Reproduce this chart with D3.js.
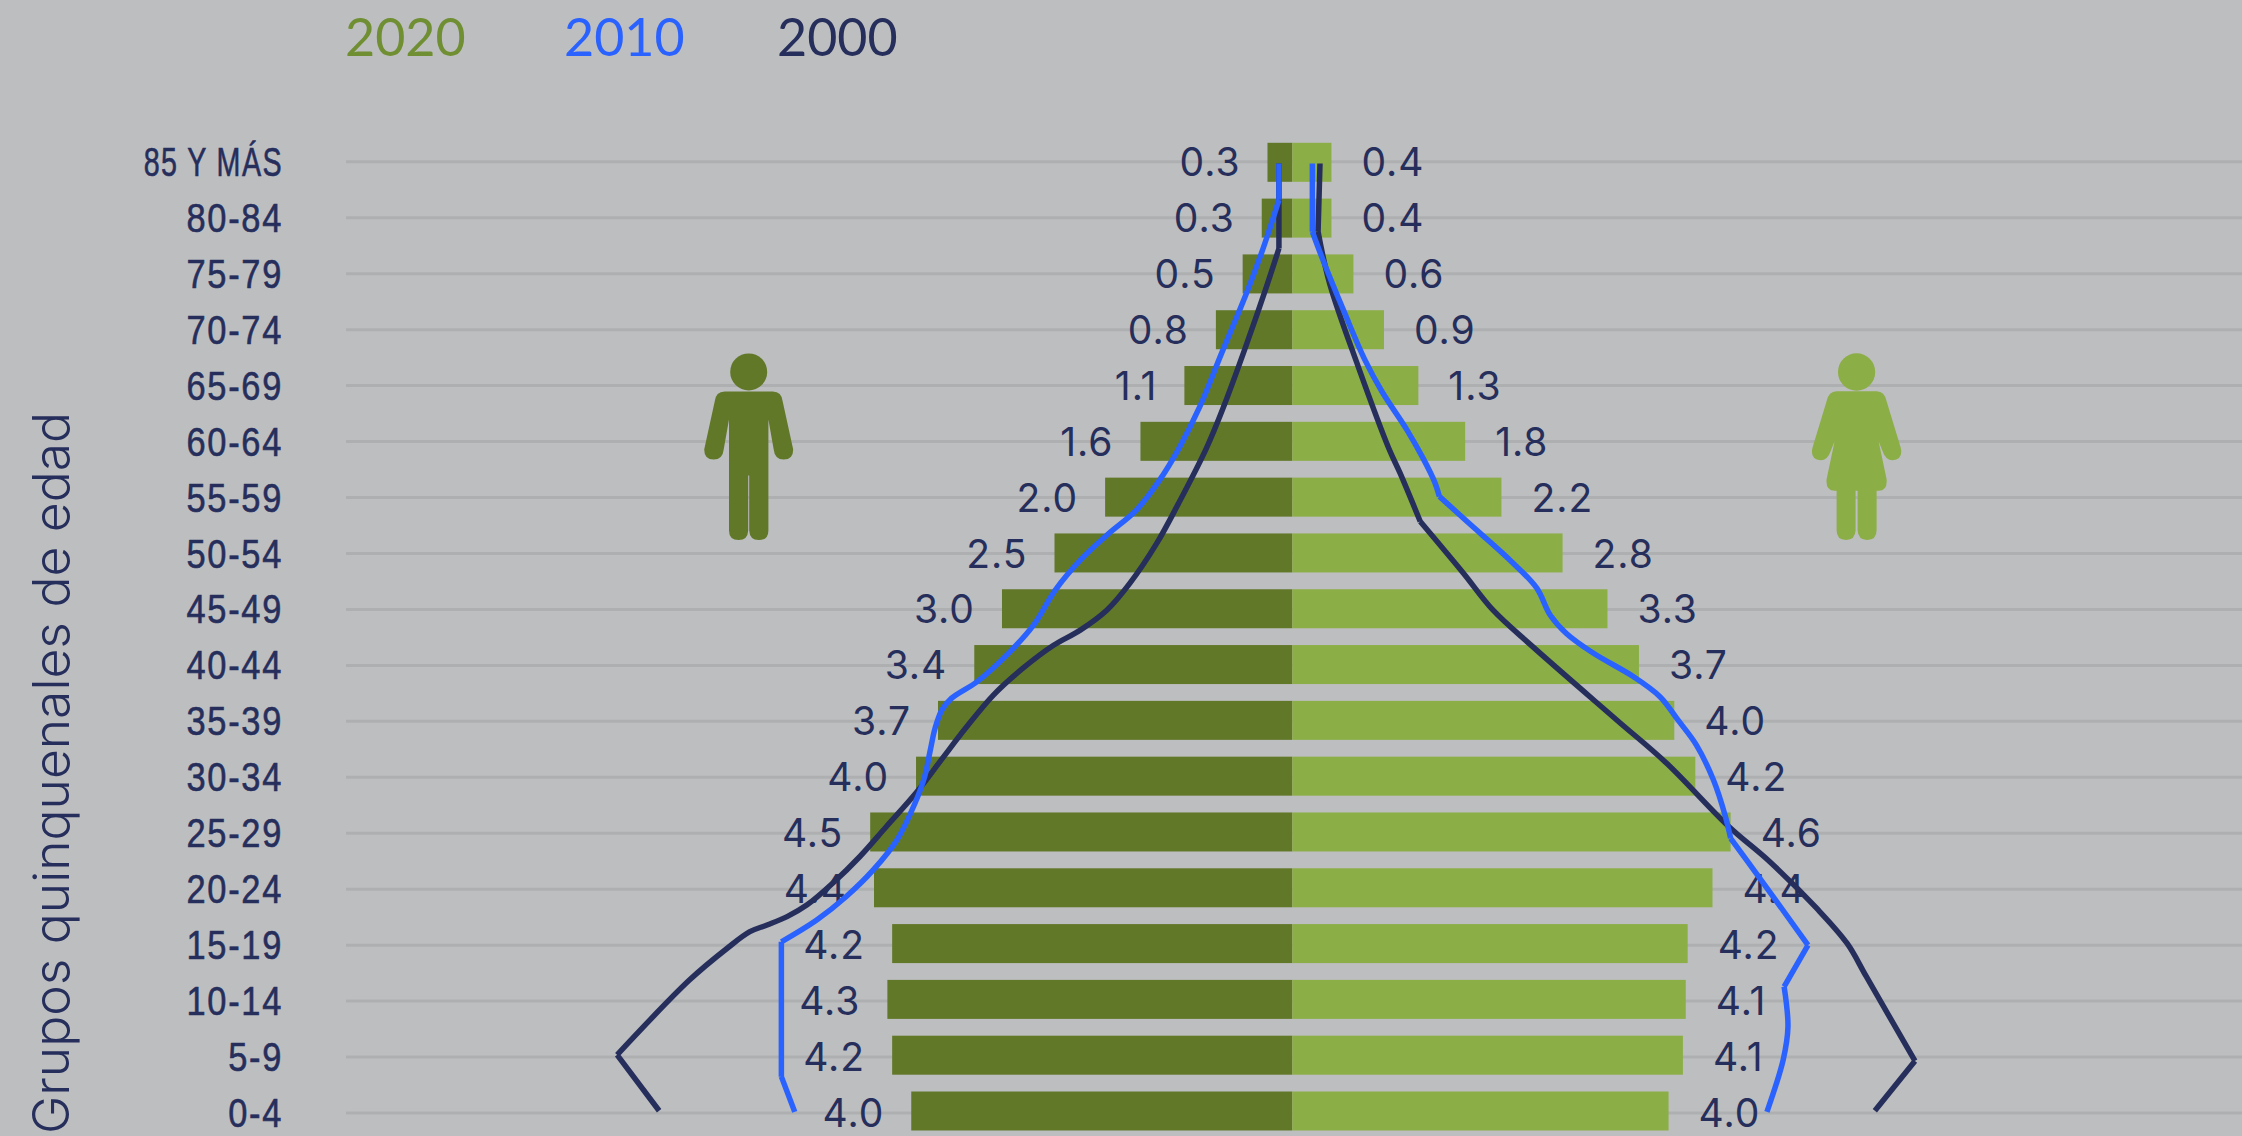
<!DOCTYPE html>
<html>
<head>
<meta charset="utf-8">
<script src="https://cdn.jsdelivr.net/npm/d3@7"></script>
<style>
html, body { margin: 0; padding: 0; background: #bdbec0; overflow: hidden; }
svg { display: block; }
</style>
</head>
<body>
<script>
// age groups, top of the pyramid first
var ageGroups = ["85 Y MÁS","80-84","75-79","70-74","65-69","60-64","55-59","50-54","45-49","40-44","35-39","30-34","25-29","20-24","15-19","10-14","5-9","0-4"];

// 2020 bars, % of population
var male2020 = [0.26,0.32,0.52,0.80,1.13,1.59,1.96,2.49,3.04,3.33,3.71,3.94,4.42,4.38,4.19,4.24,4.19,3.99];
var female2020 = [0.41,0.41,0.64,0.96,1.32,1.81,2.19,2.83,3.30,3.63,4.00,4.22,4.59,4.40,4.14,4.12,4.09,3.94];
var maleLabels = ["0.3","0.3","0.5","0.8","1.1","1.6","2.0","2.5","3.0","3.4","3.7","4.0","4.5","4.4","4.2","4.3","4.2","4.0"];
var femaleLabels = ["0.4","0.4","0.6","0.9","1.3","1.8","2.2","2.8","3.3","3.7","4.0","4.2","4.6","4.4","4.2","4.1","4.1","4.0"];

// outline lines as [pct, age position], 0 = 0-4 row and 17 = 85+ row
// each inner list is one smooth run, a new run starts at a kink
var male2010 = [
  [[0.14,16.97],[0.14,16.32]],
  [[0.14,16.32],[0.30,15.48],[0.48,14.65],[0.74,13.58],[0.97,12.62],[1.19,11.87],[1.39,11.31],[1.63,10.78],[1.94,10.33],[2.22,9.88],[2.48,9.35],[2.71,8.72],[2.97,8.22],[3.30,7.71],[3.57,7.41],[3.67,7.20],[3.74,6.88],[3.79,6.49],[3.85,6.01],[3.95,5.54],[4.14,4.88],[4.39,4.34],[4.67,3.87],[4.98,3.45],[5.35,3.06]],
  [[5.35,3.06],[5.35,0.65]],
  [[5.35,0.65],[5.21,0.02]]
];
var male2000 = [
  [[0.14,16.97],[0.14,15.45]],
  [[0.14,15.45],[0.27,14.77],[0.50,13.64],[0.72,12.62],[0.90,11.88],[1.19,10.90],[1.42,10.18],[1.70,9.47],[1.94,8.99],[2.22,8.63],[2.50,8.36],[2.82,7.95],[3.13,7.47],[3.42,6.88],[3.65,6.37],[3.93,5.74],[4.25,5.12],[4.53,4.58],[4.81,4.11],[5.08,3.72],[5.29,3.51],[5.50,3.36],[5.68,3.24],[5.92,2.94],[6.31,2.38],[7.07,1.04]],
  [[7.07,1.04],[6.63,0.04]]
];
var female2010 = [
  [[0.21,16.97],[0.21,15.75]],
  [[0.21,15.75],[0.32,15.25],[0.55,14.29],[0.76,13.46],[0.94,12.89],[1.20,12.21],[1.37,11.70],[1.49,11.28],[1.54,11.02]],
  [[1.54,11.02],[1.83,10.57],[2.28,9.88],[2.56,9.38],[2.70,8.90],[2.87,8.57],[3.15,8.22],[3.57,7.80],[3.85,7.44],[4.04,7.02],[4.23,6.58],[4.41,5.95],[4.53,5.33],[4.59,4.91]],
  [[4.59,4.91],[4.86,4.28],[5.40,3.00]],
  [[5.40,3.00],[5.15,2.26]],
  [[5.15,2.26],[5.19,1.54],[5.14,0.95],[4.97,0.02]]
];
var female2000 = [
  [[0.29,16.97],[0.27,15.75]],
  [[0.27,15.75],[0.39,14.83],[0.69,13.34],[1.01,11.88],[1.13,11.43],[1.34,10.57]],
  [[1.34,10.57],[1.79,9.65],[2.10,8.99],[2.52,8.33],[3.40,7.02],[3.92,6.25],[4.57,5.12],[5.00,4.49],[5.49,3.66],[5.81,3.03],[6.01,2.44],[6.52,0.93]],
  [[6.52,0.93],[6.10,0.04]]
];

var legendYears = ["2020","2010","2000"];
var legendColors = ["#708f32","#2a62ff","#262e5c"];

var width = 2242, height = 1136;
var centerX = 1292.3, gridLeft = 346, topRow = 161.8, bottomRow = 1113;
var barHeight = 39;
var navy = "#262e5c", darkGreen = "#627829", lightGreen = "#8cae46", blue = "#2a62ff";

var svg = d3.select("body").append("svg")
  .attr("width", width)
  .attr("height", height)
  .style("background", "#bdbec0");

var xMale = d3.scaleLinear().domain([0, 5]).range([centerX, centerX - 477.5]);
var xFemale = d3.scaleLinear().domain([0, 5]).range([centerX, centerX + 477.5]);
var y = d3.scalePoint().domain(ageGroups).range([topRow, bottomRow]);
// bars drift up a little from the grid towards the bottom
var yBar = d3.scalePoint().domain(ageGroups).range([topRow + 0.5, bottomRow - 2]);
var yAge = d3.scaleLinear().domain([17, 0]).range([topRow, bottomRow]);

// grid
svg.append("g").selectAll("line")
  .data(ageGroups)
  .join("line")
  .attr("x1", gridLeft)
  .attr("x2", width)
  .attr("y1", function(d) { return y(d); })
  .attr("y2", function(d) { return y(d); })
  .attr("stroke", "#aeafb0")
  .attr("stroke-width", 3);

// age axis, squeezed because the condensed face of the original is not installed
var axis = svg.append("g")
  .attr("transform", "translate(283,0)")
  .call(d3.axisLeft(y).tickSize(0).tickPadding(0));
axis.select(".domain").remove();
axis.selectAll("text")
  .attr("fill", navy)
  .attr("stroke", navy)
  .attr("stroke-width", 0.6)
  .attr("transform", function(d) { return d === ageGroups[0] ? "scale(0.7,1)" : "scale(0.84,1)"; })
  .attr("dy", ".33em")
  .style("font-family", "'Liberation Sans',sans-serif")
  .style("font-size", "41px")
  .style("letter-spacing", "2px");

// axis title
svg.append("text")
  .attr("transform", "translate(69,1134) rotate(-90)")
  .attr("textLength", 722)
  .attr("lengthAdjust", "spacingAndGlyphs")
  .attr("fill", navy)
  .style("font-family", "Inter,sans-serif")
  .style("font-size", "50px")
  .style("font-weight", 300)
  .text("Grupos quinquenales de edad");

// legend
svg.append("g").selectAll("text")
  .data(legendYears)
  .join("text")
  .attr("x", function(d, i) { return [345, 564, 777][i]; })
  .attr("y", 56)
  .attr("fill", function(d, i) { return legendColors[i]; })
  .style("font-family", "Lato,sans-serif")
  .style("font-size", "52px")
  .style("font-weight", 400)
  .text(function(d) { return d; });

// man icon
var man = svg.append("g").attr("transform", "translate(748.7,391.4)").attr("fill", darkGreen);
man.append("ellipse").attr("cx", 0).attr("cy", -19.5).attr("rx", 18.5).attr("ry", 18.5);
man.append("path").attr("d", "M-24 0L24 0Q33 0 34 10L44.5 58Q44.5 68 35 68Q26 68 25 58L19.7 28L19.7 139Q19.7 148.6 10 148.6Q1 148.6 .5 139L.5 84L-.5 84L-.5 139Q-1 148.6-10 148.6Q-19.7 148.6-19.7 139L-19.7 28L-25 58Q-26 68-35 68Q-44.5 68-44.5 58L-34 10Q-33 0-24 0Z");

// woman icon
var woman = svg.append("g").attr("transform", "translate(1856.6,391.3)").attr("fill", lightGreen);
woman.append("ellipse").attr("cx", 0).attr("cy", -19.3).attr("rx", 18.6).attr("ry", 18.7);
woman.append("path").attr("d", "M-20 0L20 0Q28 0 30 10L44 56Q47 68 36 69Q29 69 26 60L22 50L30 88Q31 99.4 22 99.4L20 99.4L20 139Q20 148.7 10.5 148.7Q1.5 148.7 1 139L1 99.4L-1 99.4L-1 139Q-1.5 148.7-10.5 148.7Q-20 148.7-20 139L-20 99.4L-22 99.4Q-31 99.4-30 88L-22 50L-26 60Q-29 69-36 69Q-47 68-44 56L-30 10Q-28 0-20 0Z");

// bars
svg.append("g").selectAll("rect")
  .data(male2020)
  .join("rect")
  .attr("x", function(d) { return xMale(d); })
  .attr("y", function(d, i) { return yBar(ageGroups[i]) - barHeight / 2; })
  .attr("width", function(d) { return centerX - xMale(d); })
  .attr("height", barHeight)
  .attr("fill", darkGreen);

svg.append("g").selectAll("rect")
  .data(female2020)
  .join("rect")
  .attr("x", centerX)
  .attr("y", function(d, i) { return yBar(ageGroups[i]) - barHeight / 2; })
  .attr("width", function(d) { return xFemale(d) - centerX; })
  .attr("height", barHeight)
  .attr("fill", lightGreen);

// value labels
function valueLabels(values, labels, x, side, gap) {
  svg.append("g").selectAll("text")
    .data(values)
    .join("text")
    .attr("x", function(d) { return x(d) + side * gap; })
    .attr("y", function(d, i) { return y(ageGroups[i]); })
    .attr("dy", ".36em")
    .attr("text-anchor", side < 0 ? "end" : "start")
    .attr("fill", navy)
    .style("font-family", "Inter,sans-serif")
    .style("font-size", "39px")
    .style("letter-spacing", "1px")
    .text(function(d, i) { return labels[i]; });
}
valueLabels(male2020, maleLabels, xMale, -1, 27);
valueLabels(female2020, femaleLabels, xFemale, 1, 30);

// outlines for 2000 and 2010
function outline(runs, x, color) {
  var line = d3.line()
    .x(function(d) { return x(d[0]); })
    .y(function(d) { return yAge(d[1]); })
    .curve(d3.curveCatmullRom.alpha(0.5));
  svg.append("path")
    .attr("d", runs.map(function(r) { return line(r); }).join(""))
    .attr("fill", "none")
    .attr("stroke", color)
    .attr("stroke-width", 5.5)
    .attr("stroke-linejoin", "miter");
}
outline(male2000, xMale, navy);
outline(female2000, xFemale, navy);
outline(male2010, xMale, blue);
outline(female2010, xFemale, blue);
</script>
</body>
</html>
